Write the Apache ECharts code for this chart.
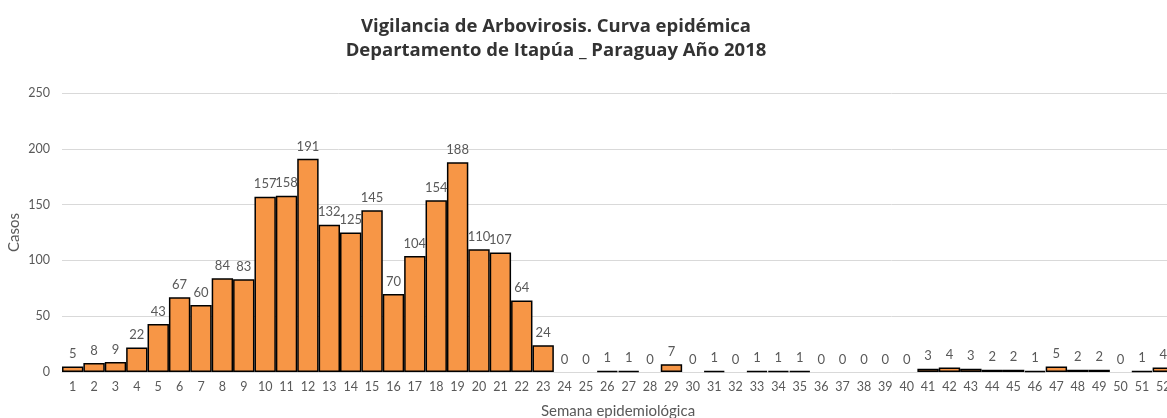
<!DOCTYPE html>
<html>
<head>
<meta charset="utf-8">
<script src="https://cdn.jsdelivr.net/npm/echarts@6/dist/echarts.min.js"></script>
<style>
  html, body { margin: 0; padding: 0; background: #fff; }
  #chart { width: 1167px; height: 418px; }
</style>
</head>
<body>
<div id="chart"></div>
<script>
// semanas epidemiológicas 1..52
var semanas = [];
for (var i = 1; i <= 52; i++) semanas.push(String(i));

// casos por semana
var casos = [5, 8, 9, 22, 43, 67, 60, 84, 83, 157, 158, 191, 132, 125, 145, 70, 104, 154, 188, 110,
  107, 64, 24, 0, 0, 1, 1, 0, 7, 0, 1, 0, 1, 1, 1, 0, 0, 0, 0, 0,
  3, 4, 3, 2, 2, 1, 5, 2, 2, 0, 1, 4];

var yMax = 250;
var yInterval = 50;

// semanas sin casos: sin borde (como en Excel)
var barData = casos.map(function (v) {
  return v === 0 ? { value: v, itemStyle: { borderWidth: 0 } } : v;
});

var chart = echarts.init(document.getElementById("chart"));
chart.setOption({
  animation: false,
  title: {
    text: "Vigilancia de Arbovirosis. Curva epidémica\nDepartamento de Itapúa _ Paraguay Año 2018",
    left: 551,
    top: 10,
    textAlign: "center",
    textStyle: {
      fontFamily: "Open Sans",
      fontWeight: "bold",
      fontSize: 18.5,
      lineHeight: 24,
      color: "#333333"
    }
  },
  grid: {
    left: 62,
    width: 1112,
    top: 93,
    height: 279,
    outerBoundsMode: "none"
  },
  xAxis: {
    type: "category",
    data: semanas,
    name: "Semana epidemiológica",
    nameLocation: "middle",
    nameGap: 32,
    nameTextStyle: { fontFamily: "Lato", fontSize: 15, color: "#595959" },
    axisTick: { show: false },
    axisLine: { lineStyle: { color: "#d9d9d9", width: 1 } },
    axisLabel: { interval: 0, fontFamily: "Lato", fontSize: 12.5, color: "#595959", margin: 8 }
  },
  yAxis: {
    type: "value",
    min: 0,
    max: yMax,
    interval: yInterval,
    name: "Casos",
    nameLocation: "middle",
    nameGap: 40,
    nameMoveOverlap: false,
    nameTextStyle: { fontFamily: "Lato", fontSize: 15, color: "#595959" },
    axisLabel: { fontFamily: "Lato", fontSize: 12.5, color: "#595959", margin: 12 },
    splitLine: { lineStyle: { color: "#d9d9d9", width: 1 } }
  },
  series: [
    {
      name: "Casos",
      type: "bar",
      data: barData,
      barCategoryGap: 0,
      itemStyle: {
        color: "#F79646",
        borderColor: "#000000",
        borderWidth: 1.5
      },
      label: {
        show: true,
        position: "top",
        distance: 6,
        fontFamily: "Lato",
        fontSize: 13,
        color: "#595959"
      }
    }
  ]
});
</script>
</body>
</html>
